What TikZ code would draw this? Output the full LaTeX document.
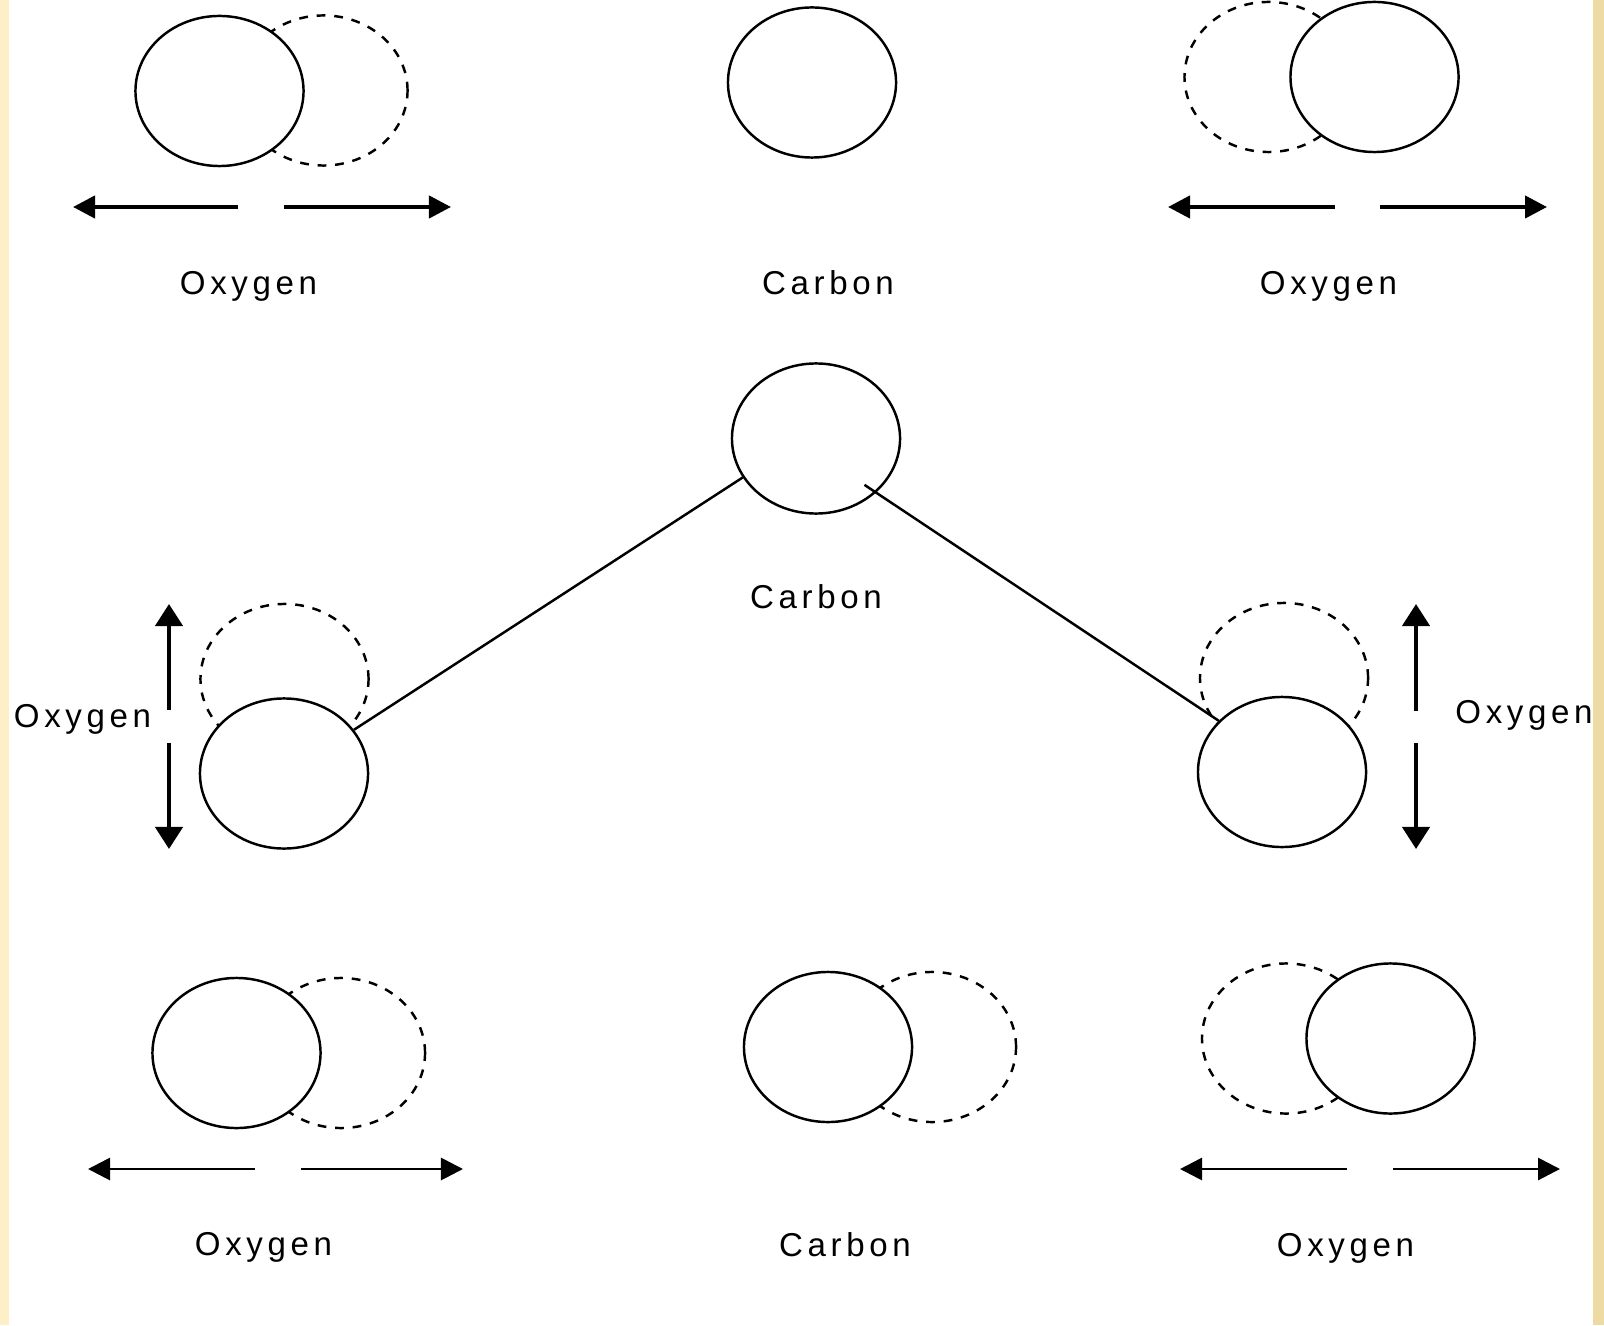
\documentclass[tikz,border=0pt]{standalone}
\usepackage{fontspec}
\setmainfont{Liberation Sans}
\newfontfamily\atomfont[LetterSpace=14]{Liberation Sans}
\usetikzlibrary{arrows.meta,shapes.geometric}
\definecolor{stripleft}{HTML}{FDF0C6}
\definecolor{stripright}{HTML}{EEDBA4}
\tikzset{atom/.style={draw, ellipse, fill=white, line width=0.7pt, inner sep=0pt, minimum width=1.68cm, minimum height=1.5cm}}
\tikzset{ghost/.style={atom, dash pattern=on 2.5pt off 2.5pt}}
\tikzset{atomname/.style={anchor=base, inner sep=0pt, font=\atomfont\fontsize{9.4}{11}\selectfont}}
\tikzset{push/.style={draw, line width=1.2pt, -{Triangle[length=0.22cm, width=0.22cm]}}}
\tikzset{pushwide/.style={push, -{Triangle[length=0.22cm, width=0.27cm]}}}
\tikzset{pushthin/.style={push, line width=0.8pt}}
\tikzset{bond/.style={draw, line width=0.7pt}}

\begin{document}
\begin{tikzpicture}[x=0.01cm, y=-0.01cm]
    \useasboundingbox (0,0) rectangle (1604,1325);
    \fill [stripleft] (0,0) rectangle (9,1325);
    \fill [stripright] (1593,0) rectangle (1604,1325);

    % top row
    \node [ghost] (ghostTL) at (323.5,90.5) {};
    \node [atom] (oxTL) at (219.5,91) {};
    \node [atom] (carbonTop) at (812,82.5) {};
    \node [ghost] (ghostTR) at (1268.5,77) {};
    \node [atom] (oxTR) at (1374.5,77) {};

    \node [atomname] (nameTL) at (248.5,295) {Oxygen};
    \node [atomname] (nameTop) at (828,295) {Carbon};
    \node [atomname] (nameTR) at (1328.5,295) {Oxygen};

    % middle row
    \node [atom] (carbonMid) at (816,438.5) {};
    \node [ghost] (ghostML) at (284.5,679) {};
    \node [atom] (oxML) at (284,773.5) {};
    \node [ghost] (ghostMR) at (1284,678) {};
    \node [atom] (oxMR) at (1282,772) {};

    \node [atomname] (nameMid) at (816,608) {Carbon};
    \node [atomname] (nameML) at (82.5,727) {Oxygen};
    \node [atomname] (nameMR) at (1524,723) {Oxygen};

    % bottom row
    \node [ghost] (ghostBL) at (341,1053) {};
    \node [atom] (oxBL) at (236.5,1053) {};
    \node [ghost] (ghostBot) at (932,1047) {};
    \node [atom] (carbonBot) at (828,1047) {};
    \node [ghost] (ghostBR) at (1286,1038.5) {};
    \node [atom] (oxBR) at (1390.5,1038.5) {};

    \node [atomname] (nameBL) at (263.5,1255) {Oxygen};
    \node [atomname] (nameBot) at (845,1256) {Carbon};
    \node [atomname] (nameBR) at (1345.5,1256) {Oxygen};

    \path [bond] (carbonMid.208) -- (oxML.32);
    \path [bond, shorten <=-0.14cm] (carbonMid.-42) -- (oxMR.141);

    \coordinate (tlLeftStart) at (238,207);
    \coordinate (tlLeftEnd) at (73,207);
    \coordinate (tlRightStart) at (284,207);
    \coordinate (tlRightEnd) at (451,207);
    \coordinate (trLeftStart) at (1335,207);
    \coordinate (trLeftEnd) at (1168,207);
    \coordinate (trRightStart) at (1380,207);
    \coordinate (trRightEnd) at (1547,207);

    \coordinate (mlUpStart) at (169,710);
    \coordinate (mlUpEnd) at (169,604);
    \coordinate (mlDownStart) at (169,743);
    \coordinate (mlDownEnd) at (169,849);
    \coordinate (mrUpStart) at (1416,711);
    \coordinate (mrUpEnd) at (1416,604);
    \coordinate (mrDownStart) at (1416,743);
    \coordinate (mrDownEnd) at (1416,849);

    \coordinate (blLeftStart) at (255,1169);
    \coordinate (blLeftEnd) at (88,1169);
    \coordinate (blRightStart) at (301,1169);
    \coordinate (blRightEnd) at (463,1169);
    \coordinate (brLeftStart) at (1347,1169);
    \coordinate (brLeftEnd) at (1180,1169);
    \coordinate (brRightStart) at (1393,1169);
    \coordinate (brRightEnd) at (1560,1169);

    \path [push] (tlLeftStart) -- (tlLeftEnd);
    \path [push] (tlRightStart) -- (tlRightEnd);
    \path [push] (trLeftStart) -- (trLeftEnd);
    \path [push] (trRightStart) -- (trRightEnd);

    \path [pushwide] (mlUpStart) -- (mlUpEnd);
    \path [pushwide] (mlDownStart) -- (mlDownEnd);
    \path [pushwide] (mrUpStart) -- (mrUpEnd);
    \path [pushwide] (mrDownStart) -- (mrDownEnd);

    \path [pushthin] (blLeftStart) -- (blLeftEnd);
    \path [pushthin] (blRightStart) -- (blRightEnd);
    \path [pushthin] (brLeftStart) -- (brLeftEnd);
    \path [pushthin] (brRightStart) -- (brRightEnd);
\end{tikzpicture}
\end{document}
